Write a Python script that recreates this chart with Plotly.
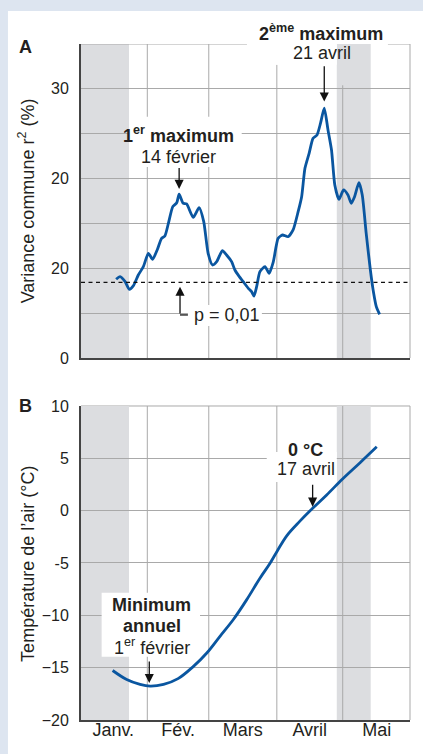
import numpy as np
import plotly.graph_objects as go

# ---------------- data ----------------
month_labels = ["Janv.", "Fév.", "Mars", "Avril", "Mai"]
month_starts = [0, 31, 59, 90, 120, 151]
x_range = [0.8, 150.65]

var_days = [16.8, 18.6, 20.9, 22.8, 24.6, 26.9, 29.2, 31.5, 33.4, 35.5, 37.5, 39.0, 40.6, 42.6,
            44.4, 45.5, 47.3, 48.9, 51.9, 54.6, 56.7, 58.7, 60.7, 62.6, 65.2, 67.1, 69.4, 70.9,
            72.9, 74.7, 77.0, 78.5, 79.6, 80.8, 82.3, 84.6, 86.5, 88.4, 90.6, 92.6, 95.1, 97.4,
            99.7, 101.3, 102.8, 104.7, 106.5, 108.3, 109.9, 111.6, 113.3, 114.9, 116.4, 118.3,
            120.4, 122.4, 123.9, 125.4, 127.4, 128.9, 130.7, 132.6, 134.1, 135.3, 136.8]
var_vals = [8.77, 9.07, 8.51, 7.66, 8.03, 9.25, 10.18, 11.67, 11.0, 12.04, 13.34, 13.6, 15.0, 16.87,
            17.3, 18.25, 17.25, 17.17, 15.68, 16.76, 15.2, 11.67, 10.37, 10.74, 11.96, 11.48, 10.74, 9.81,
            9.07, 8.51, 7.77, 7.39, 6.91, 7.95, 9.62, 10.18, 9.44, 10.74, 13.34, 13.71, 13.52, 14.27,
            16.31, 17.98, 21.15, 22.82, 24.49, 24.86, 26.17, 27.84, 25.42, 23.19, 19.29, 17.69,
            18.73, 18.17, 17.25, 17.98, 19.54, 18.17, 13.9, 9.81, 7.21, 5.72, 4.87]
p_threshold = 8.44

temp_days = [15.2, 21.6, 27.7, 32.3, 38.4, 45.0, 51.9, 58.1, 64.1, 70.2, 76.3, 82.3, 86.9,
             90.2, 94.5, 100.5, 106.3, 112.7, 119.8, 127.9, 135.5]
temp_vals = [-15.27, -16.13, -16.6, -16.77, -16.6, -16.05, -14.9, -13.6, -12.0, -10.4, -8.5,
             -6.45, -5.02, -3.85, -2.4, -1.0, 0.23, 1.5, 3.0, 4.58, 6.1]
zero_day = 106.3  # 17 avril

shade_periods = [(0.8, 22.66), (117.3, 132.75)]

yA_ticks = [0, 10, 20, 30]
yA_text = ["0", "20", "20", "30"]
yA_minor = [5, 15, 25]
yB_ticks = [-20, -15, -10, -5, 0, 5, 10]
yB_text = ["\u221220", "\u221215", "\u221210", "-5", "0", "5", "10"]

# ---------------- style ----------------
FONT = "Liberation Sans, Arial, Helvetica, sans-serif"
TXT = "#231f20"
BLUE = "#0a56a0"
GRID = "#a9a9a9"
SHADE = "#dcdde0"
AXIS = "#444444"
BG = "#dde5f0"

fig = go.Figure()

fig.add_trace(go.Scatter(x=var_days, y=var_vals, mode="lines",
                         line=dict(color=BLUE, width=2.8, shape="spline", smoothing=0.6),
                         xaxis="x", yaxis="y", hoverinfo="skip", showlegend=False))
fig.add_trace(go.Scatter(x=x_range, y=[p_threshold, p_threshold], mode="lines",
                         line=dict(color="#111111", width=1.3, dash="4px,3.5px"),
                         xaxis="x", yaxis="y", hoverinfo="skip", showlegend=False))
fig.add_trace(go.Scatter(x=temp_days, y=temp_vals, mode="lines",
                         line=dict(color=BLUE, width=2.8, shape="spline", smoothing=1.0),
                         xaxis="x2", yaxis="y2", hoverinfo="skip", showlegend=False))

shapes = []
# white panel
shapes.append(dict(type="rect", xref="paper", yref="paper", x0=-0.222, x1=1.06, y0=-0.06, y1=1.0488,
                   fillcolor="white", line_width=0, layer="below"))
for xr, yr, (y0, y1) in [("x", "y", (0, 35)), ("x2", "y2", (-20, 10))]:
    for a, b in shade_periods:
        shapes.append(dict(type="rect", xref=xr, yref=yr, x0=a, x1=b, y0=y0, y1=y1,
                           fillcolor=SHADE, line_width=0, layer="below"))
# vertical gridlines
topA = {31: 35, 59: 35, 90: 32.7, 120: 30.4}
for m in month_starts[1:5]:
    shapes.append(dict(type="line", xref="x", yref="y", x0=m, x1=m, y0=0, y1=topA[m],
                       line=dict(color=GRID, width=1), layer="below"))
    shapes.append(dict(type="line", xref="x2", yref="y2", x0=m, x1=m, y0=-20, y1=10,
                       line=dict(color=GRID, width=1), layer="below"))
# borders (top / right)
shapes.append(dict(type="line", xref="x", yref="y", x0=x_range[0], x1=76.4, y0=35, y1=35,
                   line=dict(color=GRID, width=1), layer="below"))
shapes.append(dict(type="line", xref="x", yref="y", x0=140.6, x1=x_range[1], y0=35, y1=35,
                   line=dict(color=GRID, width=1), layer="below"))
shapes.append(dict(type="line", xref="x domain", yref="y domain", x0=1, x1=1, y0=0, y1=1,
                   line=dict(color=GRID, width=1), layer="below"))
shapes.append(dict(type="line", xref="x2 domain", yref="y2 domain", x0=0, x1=1, y0=1, y1=1,
                   line=dict(color=GRID, width=1), layer="below"))
shapes.append(dict(type="line", xref="x2 domain", yref="y2 domain", x0=1, x1=1, y0=0, y1=1,
                   line=dict(color=GRID, width=1), layer="below"))
# white masks behind labels
masks = [("x", "y", 22.7, 74.0, 21.3, 26.9),
         ("x", "y", 49.5, 83.2, 3.57, 5.9),
         ("x", "y", 76.4, 117.3, 32.68, 35.0),
         ("x2", "y2", 10.2, 55.0, -13.95, -7.85),
         ("x2", "y2", 85.4, 117.3, 2.73, 5.6)]
for xr, yr, a, b, c, d in masks:
    shapes.append(dict(type="rect", xref=xr, yref=yr, x0=a, x1=b, y0=c, y1=d,
                       fillcolor="white", line_width=0, layer="between"))

# arrow positions derived from data
vd = np.array(var_days); vv = np.array(var_vals)
first = vd < 80
i1 = int(np.argmax(np.where(first, vv, -1)))
i2 = int(np.argmax(vv))
j = int(np.argmin(temp_vals))
zero_val = float(np.interp(zero_day, temp_days, temp_vals))
p_x = 45.9
# L connector for p label
shapes.append(dict(type="line", xref="x", yref="y", x0=p_x, x1=49.5, y0=4.8, y1=4.8,
                   line=dict(color="#111111", width=1.3), layer="above"))

ann = []
def label(text, x, y, xr, yr, size=18, xanchor="center"):
    ann.append(dict(text=text, x=x, y=y, xref=xr, yref=yr, showarrow=False,
                    xanchor=xanchor, yanchor="middle", font=dict(family=FONT, size=size, color=TXT)))

def arrow(x, ytail, ytip, xr, yr):
    ann.append(dict(text="", x=x, y=ytip, ax=x, ay=ytail, xref=xr, yref=yr, axref=xr, ayref=yr,
                    showarrow=True, arrowhead=2, arrowsize=1.4, arrowwidth=1.3, arrowcolor="#111111",
                    standoff=0, startstandoff=0))

label("<b>1<sup>er</sup> maximum</b>", 45.4, 24.87, "x", "y")
label("14 février", 45.4, 22.45, "x", "y")
arrow(var_days[i1], var_vals[i1] + 3.1, var_vals[i1] + 0.6, "x", "y")
label("<b>2<sup>ème</sup> maximum</b>", 110.3, (720 - 33) / 676, "x", "paper")
label("21 avril", 110.4, 33.95, "x", "y")
arrow(var_days[i2], var_vals[i2] + 4.85, var_vals[i2] + 0.75, "x", "y")
arrow(p_x, 4.8, p_threshold - 0.49, "x", "y")
label("p = 0,01", 51.2, 4.75, "x", "y", xanchor="left")

label("<b>Minimum</b>", 33.0, -9.0, "x2", "y2")
label("<b>annuel</b>", 33.0, -11.0, "x2", "y2")
label("1<sup>er</sup> février", 33.2, -12.98, "x2", "y2")
arrow(temp_days[j] - 0.4, temp_vals[j] + 2.5, temp_vals[j] + 0.3, "x2", "y2")
label("<b>0 °C</b>", 103.0, 5.84, "x2", "y2")
label("17 avril", 103.1, 3.98, "x2", "y2")
arrow(zero_day, zero_val + 2.4, zero_val + 0.15, "x2", "y2")

# panel letters and axis titles
for t, y in [("A", 0.996), ("B", 0.4645)]:
    ann.append(dict(text="<b>%s</b>" % t, x=-0.170, y=y, xref="paper", yref="paper", showarrow=False,
                    xanchor="center", yanchor="middle", font=dict(family=FONT, size=18, color=TXT)))
for t, y in [("Variance commune r<sup>2</sup> (%)", 0.7678), ("Température de l’air (°C)", 0.2315)]:
    ann.append(dict(text=t, x=-0.163, y=y, xref="paper", yref="paper", showarrow=False, textangle=-90,
                    xanchor="center", yanchor="middle", font=dict(family=FONT, size=18, color=TXT)))

month_mid = [(month_starts[i] + month_starts[i + 1]) / 2 for i in range(5)]

common_x = dict(range=x_range, showgrid=False, zeroline=False, showline=True, automargin=False,
                linecolor=AXIS, linewidth=2, fixedrange=True)
common_y = dict(showgrid=True, gridcolor=GRID, gridwidth=1, zeroline=False, showline=True,
                automargin=False, linecolor=AXIS, linewidth=2, ticks="outside", ticklen=7,
                tickcolor="rgba(0,0,0,0)", tickfont=dict(family=FONT, size=16, color=TXT),
                fixedrange=True)

fig.update_layout(
    template="none",
    width=423, height=754, autosize=False,
    margin=dict(l=81, r=13, t=44, b=34, pad=0),
    paper_bgcolor=BG, plot_bgcolor="white",
    font=dict(family=FONT, color=TXT),
    showlegend=False,
    xaxis=dict(domain=[0, 1], anchor="y", showticklabels=False, ticks="", **common_x),
    yaxis=dict(domain=[0.5355, 1], anchor="x", range=[0, 35], tickmode="array", tickvals=yA_ticks,
               ticktext=yA_text, minor=dict(tickvals=yA_minor, showgrid=True, gridcolor=GRID,
                                            gridwidth=1, ticks=""), **common_y),
    xaxis2=dict(domain=[0, 1], anchor="y2", tickmode="array", tickvals=month_mid, ticktext=month_labels,
                ticks="", ticklabelstandoff=-8,
                tickfont=dict(family=FONT, size=18, color=TXT), **common_x),
    yaxis2=dict(domain=[0, 0.4645], anchor="x2", range=[-20, 10], tickmode="array", tickvals=yB_ticks,
                ticktext=yB_text, **common_y),
    shapes=shapes, annotations=ann,
)

fig.write_html("out.html", config={"displayModeBar": False},
               post_script="document.body.style.margin='0px';document.body.style.overflow='hidden';"
                           "document.body.style.background='%s';" % BG)
